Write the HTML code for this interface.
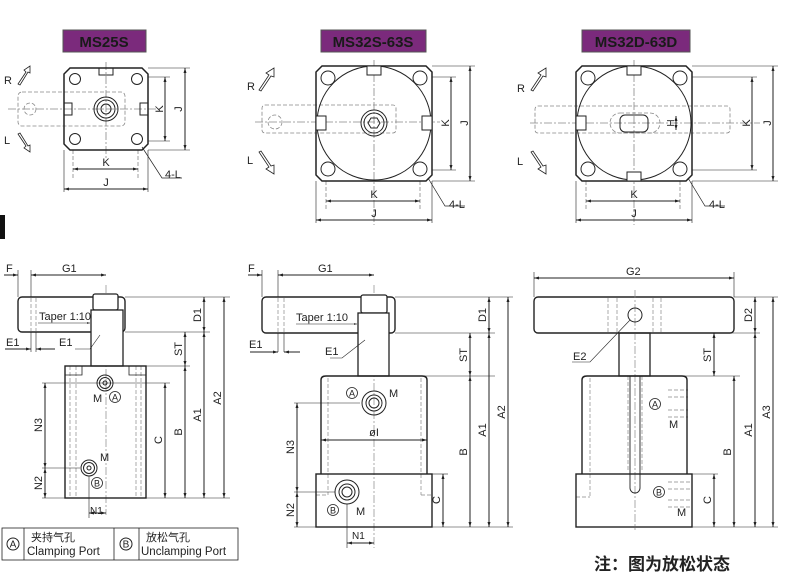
<!DOCTYPE html>
<html><head><meta charset="utf-8"><style>
html,body{margin:0;padding:0;background:#fff;}
svg{display:block;}
text{font-family:"Liberation Sans","Noto Sans CJK SC",sans-serif;fill:#222;}
</style></head><body>
<svg width="786" height="579" viewBox="0 0 786 579" xmlns="http://www.w3.org/2000/svg">
<defs>
<marker id="a" viewBox="0 0 10 10" refX="10" refY="5" markerWidth="7" markerHeight="5" orient="auto-start-reverse"><path d="M0,2 L10,5 L0,8z" fill="#222"/></marker>
</defs>
<g fill="none" stroke="#222" stroke-width="1">
<rect x="0" y="215" width="5" height="24" fill="#111" stroke="none"/>

<!-- MS25S -->
<rect x="63" y="30" width="83" height="22" fill="#7b2a7c" stroke="#555"/>
<g stroke="#888" stroke-dasharray="4,2" stroke-width="0.8">
<rect x="18" y="92" width="107" height="34" rx="4"/>
<line x1="8" y1="109" x2="160" y2="109" stroke-dasharray="8,2,2,2"/>
<line x1="106" y1="62" x2="106" y2="158" stroke-dasharray="8,2,2,2"/>
<circle cx="30" cy="109" r="6"/>
<line x1="73" y1="150" x2="73" y2="178"/><line x1="138" y1="150" x2="138" y2="178"/>
</g>
<path d="M70,68 H142 L148,74 V144 L142,150 H70 L64,144 V74z" stroke-width="1.5"/>
<circle cx="75" cy="79" r="5.5"/><circle cx="137" cy="79" r="5.5"/><circle cx="75" cy="139" r="5.5"/><circle cx="137" cy="139" r="5.5"/>
<circle cx="106" cy="109" r="12"/><circle cx="106" cy="109" r="9"/><circle cx="106" cy="109" r="5"/>
<rect x="99" y="68" width="14" height="7"/><rect x="64" y="103" width="8" height="12"/><rect x="140" y="103" width="8" height="12"/>
<line x1="148" y1="77" x2="170" y2="77" stroke-width="0.6"/><line x1="148" y1="141" x2="170" y2="141" stroke-width="0.6"/>
<line x1="148" y1="68" x2="190" y2="68" stroke-width="0.6"/><line x1="148" y1="150" x2="190" y2="150" stroke-width="0.6"/>
<line x1="165" y1="77" x2="165" y2="141" marker-start="url(#a)" marker-end="url(#a)"/>
<line x1="185" y1="68" x2="185" y2="150" marker-start="url(#a)" marker-end="url(#a)"/>
<line x1="73" y1="169" x2="138" y2="169" marker-start="url(#a)" marker-end="url(#a)"/>
<line x1="64" y1="150" x2="64" y2="192" stroke-width="0.6"/><line x1="148" y1="150" x2="148" y2="192" stroke-width="0.6"/>
<line x1="64" y1="189" x2="148" y2="189" marker-start="url(#a)" marker-end="url(#a)"/>
<polyline points="142,147 162,178 182,178" stroke-width="0.7"/>
<path d="M18,84 L26,72 L24,70 L30,66 L30,73 L28,72 L20,85z" stroke-width="0.8"/>
<path d="M18,134 L26,146 L24,148 L30,152 L30,145 L28,146 L20,133z" stroke-width="0.8"/>

<!-- MS32S -->
<rect x="321" y="30" width="105" height="22" fill="#7b2a7c" stroke="#555"/>
<g stroke="#888" stroke-dasharray="4,2" stroke-width="0.8">
<rect x="262" y="105" width="134" height="28" rx="3"/>
<line x1="255" y1="122" x2="440" y2="122" stroke-dasharray="8,2,2,2"/>
<line x1="374" y1="60" x2="374" y2="225" stroke-dasharray="8,2,2,2"/>
<circle cx="275" cy="122" r="7"/>
<line x1="326" y1="181" x2="326" y2="210"/><line x1="420" y1="181" x2="420" y2="210"/>
</g>
<path d="M322,66 H426 L432,72 V175 L426,181 H322 L316,175 V72z" stroke-width="1.5"/>
<circle cx="374" cy="123" r="57"/>
<circle cx="328" cy="78" r="7"/><circle cx="420" cy="78" r="7"/><circle cx="328" cy="169" r="7"/><circle cx="420" cy="169" r="7"/>
<circle cx="374" cy="123" r="13"/><circle cx="374" cy="123" r="10"/><polygon points="380,123 377,128 371,128 368,123 371,118 377,118"/>
<rect x="367" y="66" width="14" height="9" fill="#fff"/><rect x="316" y="116" width="10" height="14" fill="#fff"/><rect x="422" y="116" width="10" height="14" fill="#fff"/>
<line x1="432" y1="77" x2="456" y2="77" stroke-width="0.6"/><line x1="432" y1="170" x2="456" y2="170" stroke-width="0.6"/>
<line x1="432" y1="66" x2="475" y2="66" stroke-width="0.6"/><line x1="432" y1="181" x2="475" y2="181" stroke-width="0.6"/>
<line x1="451" y1="77" x2="451" y2="170" marker-start="url(#a)" marker-end="url(#a)"/>
<line x1="470" y1="66" x2="470" y2="181" marker-start="url(#a)" marker-end="url(#a)"/>
<line x1="326" y1="201" x2="420" y2="201" marker-start="url(#a)" marker-end="url(#a)"/>
<line x1="316" y1="181" x2="316" y2="223" stroke-width="0.6"/><line x1="432" y1="181" x2="432" y2="223" stroke-width="0.6"/>
<line x1="316" y1="220" x2="432" y2="220" marker-start="url(#a)" marker-end="url(#a)"/>
<polyline points="428,178 445,206 465,206" stroke-width="0.7"/>
<path d="M259,90 L269,75 L266,73 L274,68 L274,77 L271,76 L261,91z" stroke-width="0.8"/>
<path d="M259,152 L269,167 L266,169 L274,174 L274,165 L271,166 L261,151z" stroke-width="0.8"/>

<!-- MS32D -->
<rect x="582" y="30" width="108" height="22" fill="#7b2a7c" stroke="#555"/>
<g stroke="#888" stroke-dasharray="4,2" stroke-width="0.8">
<rect x="535" y="106" width="195" height="27" rx="3"/>
<line x1="530" y1="123" x2="760" y2="123" stroke-dasharray="8,2,2,2"/>
<line x1="634" y1="60" x2="634" y2="225" stroke-dasharray="8,2,2,2"/>
<rect x="610" y="113" width="50" height="20" rx="10"/>
<line x1="586" y1="181" x2="586" y2="210"/><line x1="680" y1="181" x2="680" y2="210"/>
</g>
<path d="M582,66 H686 L692,72 V175 L686,181 H582 L576,175 V72z" stroke-width="1.5"/>
<circle cx="634" cy="123" r="57"/>
<circle cx="588" cy="78" r="7"/><circle cx="680" cy="78" r="7"/><circle cx="588" cy="169" r="7"/><circle cx="680" cy="169" r="7"/>
<rect x="620" y="115" width="28" height="17" rx="5"/>
<rect x="627" y="66" width="14" height="9" fill="#fff"/><rect x="627" y="172" width="14" height="9" fill="#fff"/><rect x="576" y="116" width="10" height="14" fill="#fff"/>
<line x1="676" y1="116" x2="676" y2="130" marker-start="url(#a)" marker-end="url(#a)"/>
<line x1="692" y1="77" x2="757" y2="77" stroke-width="0.6"/><line x1="692" y1="170" x2="757" y2="170" stroke-width="0.6"/>
<line x1="692" y1="66" x2="778" y2="66" stroke-width="0.6"/><line x1="692" y1="181" x2="778" y2="181" stroke-width="0.6"/>
<line x1="752" y1="77" x2="752" y2="170" marker-start="url(#a)" marker-end="url(#a)"/>
<line x1="773" y1="66" x2="773" y2="181" marker-start="url(#a)" marker-end="url(#a)"/>
<line x1="586" y1="201" x2="680" y2="201" marker-start="url(#a)" marker-end="url(#a)"/>
<line x1="576" y1="181" x2="576" y2="223" stroke-width="0.6"/><line x1="692" y1="181" x2="692" y2="223" stroke-width="0.6"/>
<line x1="576" y1="220" x2="692" y2="220" marker-start="url(#a)" marker-end="url(#a)"/>
<polyline points="688,178 705,206 725,206" stroke-width="0.7"/>
<path d="M531,90 L541,75 L538,73 L546,68 L546,77 L543,76 L533,91z" stroke-width="0.8"/>
<path d="M531,152 L541,167 L538,169 L546,174 L546,165 L543,166 L533,151z" stroke-width="0.8"/>

<!-- Left side MS25S -->
<rect x="18" y="297" width="107" height="35" rx="4" stroke-width="1.4"/>
<g stroke="#888" stroke-dasharray="4,2" stroke-width="0.7">
<line x1="31" y1="298" x2="31" y2="331"/><line x1="36" y1="298" x2="36" y2="331"/>
<line x1="106" y1="285" x2="106" y2="515" stroke-dasharray="8,2,2,2"/>
<line x1="70" y1="366" x2="70" y2="498"/><line x1="76" y1="366" x2="76" y2="498"/>
<line x1="136" y1="366" x2="136" y2="498"/><line x1="141" y1="366" x2="141" y2="498"/>
<line x1="100" y1="310" x2="100" y2="355"/><line x1="112" y1="310" x2="112" y2="355"/>
</g>
<rect x="93" y="294" width="25" height="16" rx="2" fill="#fff" stroke-width="1.3"/>
<rect x="91" y="310" width="32" height="56" fill="#fff" stroke-width="1.3"/>
<rect x="65" y="366" width="81" height="132" stroke-width="1.4"/>
<path d="M65,375 H82 V366 M146,375 H129 V366" stroke-width="0.8"/>
<circle cx="105" cy="383" r="8"/><circle cx="105" cy="383" r="5.5"/><circle cx="105" cy="383" r="2"/>
<circle cx="89" cy="468" r="8"/><circle cx="89" cy="468" r="5.5"/><circle cx="89" cy="468" r="2"/>
<circle cx="115" cy="397" r="5.5" stroke-width="0.8"/><circle cx="97" cy="483" r="5.5" stroke-width="0.8"/>
<g stroke-width="0.6">
<line x1="125" y1="297" x2="230" y2="297"/><line x1="125" y1="332" x2="210" y2="332"/><line x1="123" y1="366" x2="190" y2="366"/>
<line x1="146" y1="498" x2="230" y2="498"/><line x1="42" y1="383" x2="170" y2="383"/><line x1="42" y1="468" x2="80" y2="468"/><line x1="42" y1="498" x2="65" y2="498"/>
<line x1="18" y1="270" x2="18" y2="297"/><line x1="31" y1="270" x2="31" y2="297"/><line x1="89" y1="476" x2="89" y2="518"/>
<line x1="31" y1="332" x2="31" y2="352"/><line x1="36" y1="332" x2="36" y2="352"/>
</g>
<line x1="204" y1="297" x2="204" y2="332" marker-start="url(#a)" marker-end="url(#a)"/>
<line x1="185" y1="332" x2="185" y2="366" marker-start="url(#a)" marker-end="url(#a)"/>
<line x1="165" y1="383" x2="165" y2="498" marker-start="url(#a)" marker-end="url(#a)"/>
<line x1="185" y1="366" x2="185" y2="498" marker-start="url(#a)" marker-end="url(#a)"/>
<line x1="204" y1="332" x2="204" y2="498" marker-start="url(#a)" marker-end="url(#a)"/>
<line x1="224" y1="297" x2="224" y2="498" marker-start="url(#a)" marker-end="url(#a)"/>
<line x1="45" y1="383" x2="45" y2="468" marker-start="url(#a)" marker-end="url(#a)"/>
<line x1="45" y1="468" x2="45" y2="498" marker-start="url(#a)" marker-end="url(#a)"/>
<line x1="89" y1="513" x2="106" y2="513" marker-start="url(#a)" marker-end="url(#a)"/>
<line x1="4" y1="275" x2="18" y2="275" marker-end="url(#a)"/>
<line x1="31" y1="275" x2="106" y2="275" marker-start="url(#a)" marker-end="url(#a)"/>
<line x1="5" y1="349" x2="31" y2="349" marker-end="url(#a)"/><line x1="55" y1="349" x2="36" y2="349" marker-end="url(#a)"/>
<polyline points="38,323 90,323" stroke-width="0.6" marker-end="url(#a)"/>
<polyline points="75,349 90,349 100,335" stroke-width="0.6"/>

<!-- Middle MS32S -->
<rect x="262" y="297" width="133" height="36" rx="4" stroke-width="1.4"/>
<g stroke="#888" stroke-dasharray="4,2" stroke-width="0.7">
<line x1="278" y1="298" x2="278" y2="332"/><line x1="284" y1="298" x2="284" y2="332"/>
<line x1="374" y1="285" x2="374" y2="548" stroke-dasharray="8,2,2,2"/>
<line x1="328" y1="378" x2="328" y2="495"/><line x1="421" y1="378" x2="421" y2="495"/>
<line x1="316" y1="495" x2="328" y2="495"/><line x1="421" y1="495" x2="432" y2="495"/>
<line x1="368" y1="313" x2="368" y2="362"/><line x1="380" y1="313" x2="380" y2="362"/>
</g>
<rect x="361" y="295" width="26" height="18" rx="2" fill="#fff" stroke-width="1.3"/>
<rect x="358" y="313" width="31" height="63" fill="#fff" stroke-width="1.3"/>
<path d="M321,474 V380 Q321,376 326,376 H422 Q427,376 427,380 V474" stroke-width="1.4"/>
<rect x="316" y="474" width="116" height="53" stroke-width="1.4"/>
<circle cx="374" cy="403" r="12"/><circle cx="374" cy="403" r="8"/><circle cx="374" cy="403" r="5"/>
<circle cx="347" cy="492" r="12"/><circle cx="347" cy="492" r="8"/><circle cx="347" cy="492" r="5"/>
<circle cx="352" cy="393" r="5.5" stroke-width="0.8"/><circle cx="333" cy="510" r="5.5" stroke-width="0.8"/>
<line x1="321" y1="440" x2="427" y2="440" marker-start="url(#a)" marker-end="url(#a)"/>
<g stroke-width="0.6">
<line x1="395" y1="297" x2="513" y2="297"/><line x1="395" y1="333" x2="495" y2="333"/><line x1="389" y1="376" x2="495" y2="376"/>
<line x1="432" y1="474" x2="448" y2="474"/><line x1="432" y1="527" x2="513" y2="527"/>
<line x1="294" y1="403" x2="360" y2="403"/><line x1="294" y1="492" x2="335" y2="492"/><line x1="294" y1="527" x2="316" y2="527"/>
<line x1="262" y1="270" x2="262" y2="297"/><line x1="278" y1="270" x2="278" y2="297"/><line x1="347" y1="504" x2="347" y2="548"/>
<line x1="278" y1="333" x2="278" y2="352"/><line x1="284" y1="333" x2="284" y2="352"/>
</g>
<line x1="489" y1="297" x2="489" y2="333" marker-start="url(#a)" marker-end="url(#a)"/>
<line x1="470" y1="333" x2="470" y2="376" marker-start="url(#a)" marker-end="url(#a)"/>
<line x1="443" y1="474" x2="443" y2="527" marker-start="url(#a)" marker-end="url(#a)"/>
<line x1="470" y1="376" x2="470" y2="527" marker-start="url(#a)" marker-end="url(#a)"/>
<line x1="489" y1="333" x2="489" y2="527" marker-start="url(#a)" marker-end="url(#a)"/>
<line x1="508" y1="297" x2="508" y2="527" marker-start="url(#a)" marker-end="url(#a)"/>
<line x1="297" y1="403" x2="297" y2="492" marker-start="url(#a)" marker-end="url(#a)"/>
<line x1="297" y1="492" x2="297" y2="527" marker-start="url(#a)" marker-end="url(#a)"/>
<line x1="347" y1="543" x2="374" y2="543" marker-start="url(#a)" marker-end="url(#a)"/>
<line x1="248" y1="275" x2="262" y2="275" marker-end="url(#a)"/>
<line x1="278" y1="275" x2="374" y2="275" marker-start="url(#a)" marker-end="url(#a)"/>
<line x1="250" y1="352" x2="278" y2="352" marker-end="url(#a)"/><line x1="300" y1="352" x2="284" y2="352" marker-end="url(#a)"/>
<polyline points="296,324 357,324" stroke-width="0.6" marker-end="url(#a)"/>
<polyline points="330,358 342,358 365,340" stroke-width="0.6"/>

<!-- Right MS32D -->
<rect x="534" y="297" width="200" height="36" rx="4" stroke-width="1.4"/>
<g stroke="#888" stroke-dasharray="4,2" stroke-width="0.7">
<line x1="608" y1="298" x2="608" y2="332"/><line x1="617" y1="298" x2="617" y2="332"/>
<line x1="653" y1="298" x2="653" y2="332"/><line x1="661" y1="298" x2="661" y2="332"/>
<line x1="635" y1="290" x2="635" y2="530" stroke-dasharray="8,2,2,2"/>
<line x1="590" y1="378" x2="590" y2="497"/><line x1="576" y1="497" x2="590" y2="497"/>
<line x1="628" y1="376" x2="628" y2="470"/><line x1="642" y1="376" x2="642" y2="470"/>
<line x1="668" y1="390" x2="688" y2="390"/><line x1="668" y1="397" x2="688" y2="397"/><line x1="668" y1="410" x2="688" y2="410"/><line x1="668" y1="417" x2="688" y2="417"/>
<line x1="668" y1="482" x2="690" y2="482"/><line x1="668" y1="489" x2="690" y2="489"/><line x1="668" y1="500" x2="690" y2="500"/><line x1="668" y1="507" x2="690" y2="507"/>
</g>
<circle cx="635" cy="315" r="7"/>
<rect x="619" y="333" width="31" height="43" stroke-width="1.3"/>
<path d="M582,474 V380 Q582,376 587,376 H682 Q687,376 687,380 V474" stroke-width="1.4"/>
<rect x="576" y="474" width="116" height="53" stroke-width="1.4"/>
<path d="M630,376 V488 A5,5 0 0 0 640,488 V376" stroke-width="0.9"/>
<g stroke-width="0.6">
<line x1="734" y1="297" x2="778" y2="297"/><line x1="650" y1="333" x2="760" y2="333"/><line x1="650" y1="376" x2="740" y2="376"/>
<line x1="692" y1="474" x2="718" y2="474"/><line x1="692" y1="527" x2="778" y2="527"/>
<line x1="534" y1="272" x2="534" y2="297"/><line x1="734" y1="272" x2="734" y2="297"/>
</g>
<line x1="534" y1="278" x2="734" y2="278" marker-start="url(#a)" marker-end="url(#a)"/>
<line x1="755" y1="297" x2="755" y2="333" marker-start="url(#a)" marker-end="url(#a)"/>
<line x1="714" y1="333" x2="714" y2="376" marker-start="url(#a)" marker-end="url(#a)"/>
<line x1="714" y1="474" x2="714" y2="527" marker-start="url(#a)" marker-end="url(#a)"/>
<line x1="734" y1="376" x2="734" y2="527" marker-start="url(#a)" marker-end="url(#a)"/>
<line x1="755" y1="333" x2="755" y2="527" marker-start="url(#a)" marker-end="url(#a)"/>
<line x1="773" y1="297" x2="773" y2="527" marker-start="url(#a)" marker-end="url(#a)"/>
<polyline points="572,362 590,362 630,320" stroke-width="0.6"/>
<circle cx="655" cy="404" r="5.5" stroke-width="0.8"/><circle cx="659" cy="492" r="5.5" stroke-width="0.8"/>

<!-- legend table -->
<rect x="2" y="528" width="236" height="32" stroke-width="0.8"/>
<line x1="24" y1="528" x2="24" y2="560" stroke-width="0.8"/><line x1="114" y1="528" x2="114" y2="560" stroke-width="0.8"/><line x1="139" y1="528" x2="139" y2="560" stroke-width="0.8"/>
<circle cx="13" cy="544" r="6"/><circle cx="126" cy="544" r="6"/>
</g>

<!-- TEXT -->
<g font-size="11">
<text x="104" y="47" text-anchor="middle" font-weight="bold" font-size="15" style="fill:#1a1a1a">MS25S</text>
<text x="373" y="47" text-anchor="middle" font-weight="bold" font-size="15" style="fill:#1a1a1a">MS32S-63S</text>
<text x="636" y="47" text-anchor="middle" font-weight="bold" font-size="15" style="fill:#1a1a1a">MS32D-63D</text>
<text x="4" y="84">R</text><text x="4" y="144">L</text>
<text x="247" y="90">R</text><text x="247" y="164">L</text>
<text x="517" y="92">R</text><text x="517" y="165">L</text>
<text x="106" y="166" text-anchor="middle">K</text><text x="106" y="186" text-anchor="middle">J</text>
<text x="374" y="198" text-anchor="middle">K</text><text x="374" y="217" text-anchor="middle">J</text>
<text x="634" y="198" text-anchor="middle">K</text><text x="634" y="217" text-anchor="middle">J</text>
<text x="165" y="178">4-L</text><text x="449" y="208">4-L</text><text x="709" y="208">4-L</text>
<text transform="translate(163,109) rotate(-90)" text-anchor="middle">K</text>
<text transform="translate(182,109) rotate(-90)" text-anchor="middle">J</text>
<text transform="translate(449,123) rotate(-90)" text-anchor="middle">K</text>
<text transform="translate(468,123) rotate(-90)" text-anchor="middle">J</text>
<text transform="translate(750,123) rotate(-90)" text-anchor="middle">K</text>
<text transform="translate(771,123) rotate(-90)" text-anchor="middle">J</text>
<text transform="translate(674,123) rotate(-90)" text-anchor="middle" font-size="10">H</text>

<text x="6" y="272">F</text><text x="62" y="272">G1</text>
<text x="248" y="272">F</text><text x="318" y="272">G1</text>
<text x="626" y="275">G2</text>
<text x="39" y="320">Taper 1:10</text><text x="296" y="321">Taper 1:10</text>
<text x="6" y="346">E1</text><text x="59" y="346">E1</text>
<text x="249" y="348">E1</text><text x="325" y="355">E1</text>
<text x="573" y="360">E2</text>
<text x="93" y="402">M</text><text x="100" y="461">M</text>
<text x="389" y="397">M</text><text x="356" y="515">M</text>
<text x="669" y="428">M</text><text x="677" y="516">M</text>
<text x="374" y="436" text-anchor="middle">øI</text>
<text x="90" y="514" font-size="10">N1</text>
<text x="352" y="539" font-size="10">N1</text>
<g font-size="9">
<text x="115" y="400.5" text-anchor="middle">A</text><text x="97" y="486.5" text-anchor="middle">B</text>
<text x="352" y="396.5" text-anchor="middle">A</text><text x="333" y="513.5" text-anchor="middle">B</text>
<text x="655" y="407.5" text-anchor="middle">A</text><text x="659" y="495.5" text-anchor="middle">B</text>
<text x="13" y="547.5" text-anchor="middle" font-size="10">A</text><text x="126" y="547.5" text-anchor="middle" font-size="10">B</text>
</g>
<g>
<text transform="translate(201,315) rotate(-90)" text-anchor="middle">D1</text>
<text transform="translate(182,349) rotate(-90)" text-anchor="middle">ST</text>
<text transform="translate(162,440) rotate(-90)" text-anchor="middle">C</text>
<text transform="translate(182,432) rotate(-90)" text-anchor="middle">B</text>
<text transform="translate(201,415) rotate(-90)" text-anchor="middle">A1</text>
<text transform="translate(221,398) rotate(-90)" text-anchor="middle">A2</text>
<text transform="translate(42,425) rotate(-90)" text-anchor="middle">N3</text>
<text transform="translate(42,483) rotate(-90)" text-anchor="middle">N2</text>
<text transform="translate(486,315) rotate(-90)" text-anchor="middle">D1</text>
<text transform="translate(467,355) rotate(-90)" text-anchor="middle">ST</text>
<text transform="translate(440,500) rotate(-90)" text-anchor="middle">C</text>
<text transform="translate(467,452) rotate(-90)" text-anchor="middle">B</text>
<text transform="translate(486,430) rotate(-90)" text-anchor="middle">A1</text>
<text transform="translate(505,412) rotate(-90)" text-anchor="middle">A2</text>
<text transform="translate(294,447) rotate(-90)" text-anchor="middle">N3</text>
<text transform="translate(294,510) rotate(-90)" text-anchor="middle">N2</text>
<text transform="translate(752,315) rotate(-90)" text-anchor="middle">D2</text>
<text transform="translate(711,355) rotate(-90)" text-anchor="middle">ST</text>
<text transform="translate(711,500) rotate(-90)" text-anchor="middle">C</text>
<text transform="translate(731,452) rotate(-90)" text-anchor="middle">B</text>
<text transform="translate(752,430) rotate(-90)" text-anchor="middle">A1</text>
<text transform="translate(770,412) rotate(-90)" text-anchor="middle">A3</text>
</g>
<text x="31" y="541" font-size="11">夹持气孔</text>
<text x="27" y="555" font-size="11.5">Clamping Port</text>
<text x="146" y="541" font-size="11">放松气孔</text>
<text x="141" y="555" font-size="11.5">Unclamping Port</text>
<text x="594" y="570" font-size="17" font-weight="bold">注：图为放松状态</text>
</g>
</svg>
</body></html>
